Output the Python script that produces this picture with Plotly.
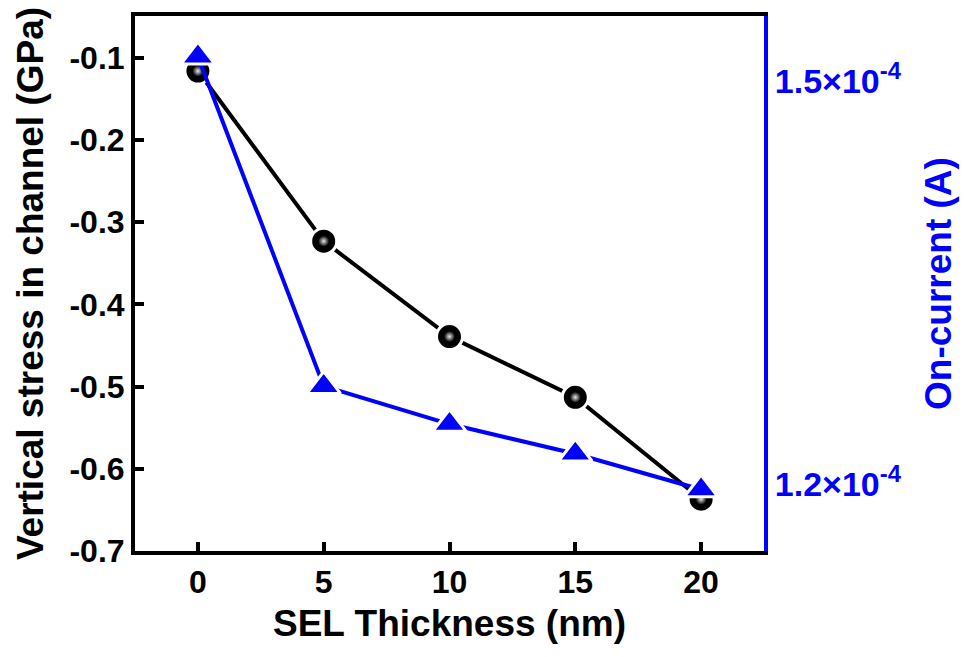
import plotly.graph_objects as go

thickness = [0, 5, 10, 15, 20]
stress = [-0.116, -0.323, -0.439, -0.513, -0.637]
on_current = [1.5185e-4, 1.2732e-4, 1.2450e-4, 1.2229e-4, 1.1963e-4]

FONT = "Liberation Sans"

fig = go.Figure()
fig.add_trace(go.Scatter(
    x=thickness, y=stress, mode="lines+markers",
    line=dict(color="black", width=4),
    marker=dict(symbol="circle", size=26, color="black",
                line=dict(color="white", width=3)),
    showlegend=False, cliponaxis=False))
fig.add_trace(go.Scatter(
    x=thickness, y=stress, mode="markers",
    marker=dict(symbol="circle", size=11, color="black",
                gradient=dict(type="radial", color="#e8e8e8"),
                line=dict(width=0)),
    showlegend=False, cliponaxis=False, hoverinfo="skip"))
fig.add_trace(go.Scatter(
    x=thickness, y=on_current, mode="lines+markers", yaxis="y2",
    line=dict(color="#0000ff", width=4),
    marker=dict(symbol="triangle-up", size=29, color="#0000ff",
                line=dict(color="white", width=3)),
    showlegend=False, cliponaxis=False))

tickf = dict(family=FONT, size=32, color="black", weight="bold")
titlef = dict(family=FONT, size=37, color="black", weight="bold")

fig.update_layout(
    width=965, height=657,
    margin=dict(l=135, r=197, t=12, b=106),
    plot_bgcolor="white", paper_bgcolor="white",
    font=dict(family=FONT, size=32, color="black"),
    xaxis=dict(range=[-2.5, 22.5], tickvals=[0, 5, 10, 15, 20],
               showline=True, linecolor="black", linewidth=4, mirror=True,
               ticks="inside", ticklen=9, tickwidth=4, tickcolor="black",
               showgrid=False, zeroline=False,
               tickfont=tickf,
               title=dict(text="SEL Thickness (nm)", standoff=12, font=titlef)),
    yaxis=dict(range=[-0.7, -0.049], tickvals=[-0.7, -0.6, -0.5, -0.4, -0.3, -0.2, -0.1],
               ticktext=["-0.7", "-0.6", "-0.5", "-0.4", "-0.3", "-0.2", "-0.1"],
               showline=True, linecolor="black", linewidth=4,
               ticks="inside", ticklen=9, tickwidth=4, tickcolor="black",
               showgrid=False, zeroline=False,
               tickfont=tickf,
               title=dict(text="Vertical stress in channel (GPa)", standoff=16, font=titlef)),
    yaxis2=dict(range=[1.1505e-4, 1.5488e-4], overlaying="y", side="right",
                tickvals=[1.2e-4, 1.5e-4],
                ticktext=["1.2×10<sup>-4</sup>", "1.5×10<sup>-4</sup>"],
                showline=True, linecolor="#0000ff", linewidth=4,
                ticks="", showgrid=False, zeroline=False,
                tickfont=dict(family=FONT, size=34, color="#0000ff", weight="bold"),
                title=dict(text="On-current (A)", standoff=25,
                           font=dict(family=FONT, size=37, color="#0000ff", weight="bold"))),
)

fig.write_html("out.html")
